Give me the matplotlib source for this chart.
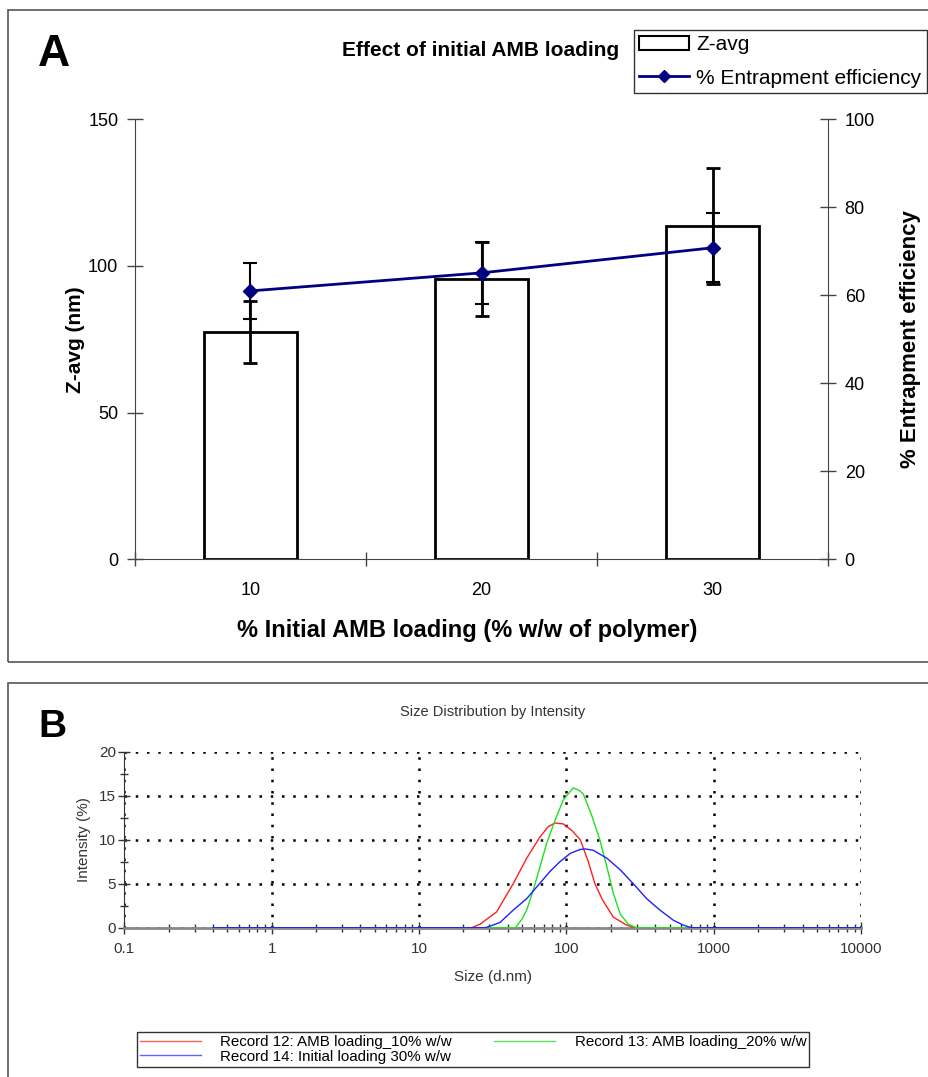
import numpy as np
import matplotlib.pyplot as plt
from matplotlib.patches import Patch, Rectangle
from matplotlib.lines import Line2D
from matplotlib.ticker import FixedLocator, NullFormatter, LogLocator, MultipleLocator

plt.rcParams['font.family'] = ['Liberation Sans', 'DejaVu Sans']

# panel A: particle size and entrapment vs. initial drug loading
loading = ['10', '20', '30']
zavg = [77.5, 95.5, 113.7]
zavg_err = [10.6, 12.7, 19.8]
ee = [61.0, 65.1, 70.8]
ee_err = [6.4, 7.1, 7.8]

# panel B: DLS intensity distributions
size_red = [0.4, 22.7, 25.9, 33.6, 37.3, 43.5, 53.7, 66, 75.3, 83.6, 95, 108,
            124, 140, 156, 175, 208, 256, 292, 10000]
int_red = [0, 0, 0.4, 1.8, 3.1, 5.0, 7.9, 10.3, 11.5, 11.9, 11.8, 11.1,
           10.0, 7.6, 5.0, 3.2, 1.2, 0.3, 0, 0]

size_green = [0.4, 45, 50, 53.7, 59.6, 66, 73.4, 83.6, 95, 111, 122, 130,
              148, 169, 188, 208, 231, 262, 299, 10000]
int_green = [0, 0, 1.0, 2.0, 4.3, 6.9, 9.6, 12.2, 14.5, 15.9, 15.6, 15.2,
             12.8, 9.9, 6.9, 3.9, 1.6, 0.4, 0, 0]

size_blue = [0.4, 28, 30, 35.4, 43.5, 53.7, 64.4, 77.3, 90.3, 106, 124, 135,
             152, 188, 231, 284, 350, 431, 531, 620, 689, 720, 10000]
int_blue = [0, 0, 0.15, 0.6, 2.0, 3.3, 4.85, 6.4, 7.5, 8.45, 8.9, 8.95,
            8.8, 7.9, 6.6, 5.0, 3.3, 2.0, 0.85, 0.3, 0.05, 0, 0]

fig = plt.figure(figsize=(9.29, 10.77), dpi=100)

# panel frames
fig.patches.append(Rectangle((8 / 929, 1 - 662 / 1077), 1.0, 652 / 1077,
                             transform=fig.transFigure, fill=False,
                             edgecolor='#555555', linewidth=1.2))
fig.patches.append(Rectangle((8 / 929, -0.01), 1.0, 1 - 683 / 1077 + 0.01,
                             transform=fig.transFigure, fill=False,
                             edgecolor='#555555', linewidth=1.2))

# ---------------- Panel A ----------------
ax = fig.add_axes([0.1453, 0.4807, 0.746, 0.4085])
x = np.arange(len(loading))
ax.bar(x, zavg, width=0.4, color='white', edgecolor='black', linewidth=2, zorder=2)
ax.errorbar(x, zavg, yerr=zavg_err, fmt='none', ecolor='black', elinewidth=2,
            capsize=5, capthick=2, zorder=3)
ax.set_xlim(-0.5, 2.5)
ax.set_ylim(0, 150)
ax.set_yticks([0, 50, 100, 150])
ax.xaxis.set_major_locator(FixedLocator([-0.5, 0.5, 1.5, 2.5]))
ax.xaxis.set_major_formatter(NullFormatter())
ax.xaxis.set_minor_locator(FixedLocator(x))
ax.set_xticklabels(loading, minor=True)
ax.tick_params(axis='x', which='major', direction='inout', length=10, width=1, color='#444444')
ax.tick_params(axis='x', which='minor', length=0, pad=16, labelsize=13)
ax.tick_params(axis='y', direction='inout', length=12, width=1, color='#444444', labelsize=13, pad=6)
for s in ['top', 'right']:
    ax.spines[s].set_visible(False)
for s in ['left', 'bottom']:
    ax.spines[s].set_color('#444444')
ax.set_ylabel('Z-avg (nm)', fontsize=15, fontweight='bold', labelpad=2)
ax.set_xlabel('% Initial AMB loading (% w/w of polymer)', fontsize=17, fontweight='bold')
ax.xaxis.set_label_coords(0.48, -0.135)

ax2 = ax.twinx()
ax2.errorbar(x, ee, yerr=ee_err, fmt='none', ecolor='black', elinewidth=1.5,
             capsize=5, capthick=1.5, zorder=3)
ax2.plot(x, ee, color='#000080', linewidth=2, marker='D', markersize=7, zorder=4)
ax2.set_ylim(0, 100)
ax2.set_yticks([0, 20, 40, 60, 80, 100])
ax2.tick_params(axis='y', direction='inout', length=12, width=1, color='#444444', labelsize=13, pad=6)
for s in ['top', 'left', 'bottom']:
    ax2.spines[s].set_visible(False)
ax2.spines['right'].set_color('#444444')
ax2.set_ylabel('% Entrapment efficiency', fontsize=16, fontweight='bold', labelpad=18)

fig.text(38 / 929, 1 - 55 / 1077, 'A', fontsize=32, fontweight='bold', va='center')
fig.text(481 / 929, 1 - 50 / 1077, 'Effect of initial AMB loading', fontsize=15,
         fontweight='bold', ha='center', va='center')

handles_a = [Patch(facecolor='white', edgecolor='black', linewidth=1.5),
             Line2D([], [], color='#000080', linewidth=2, marker='D', markersize=6)]
fig.legend(handles_a, ['Z-avg', '% Entrapment efficiency'], loc='upper left',
           bbox_to_anchor=(634 / 929, 1 - 30 / 1077),
           fontsize=15, frameon=True, fancybox=False, edgecolor='black',
           borderpad=0.25, handlelength=2.4, handletextpad=0.35, labelspacing=0.7,
           borderaxespad=0)

# ---------------- Panel B ----------------
bx = fig.add_axes([0.1338, 0.1386, 0.7933, 0.1634])
bx.plot(size_red, int_red, color='#ff2020', linewidth=1, zorder=3)
bx.plot(size_green, int_green, color='#20e020', linewidth=1, zorder=3)
bx.plot(size_blue, int_blue, color='#2020ff', linewidth=1, zorder=4)
bx.set_xscale('log')
bx.set_xlim(0.1, 10000)
bx.set_ylim(0, 20)
bx.xaxis.set_major_locator(FixedLocator([0.1, 1, 10, 100, 1000, 10000]))
bx.set_xticklabels(['0.1', '1', '10', '100', '1000', '10000'])
bx.xaxis.set_minor_locator(LogLocator(base=10, subs=np.arange(2, 10), numticks=20))
bx.xaxis.set_minor_formatter(NullFormatter())
bx.yaxis.set_major_locator(MultipleLocator(5))
bx.yaxis.set_minor_locator(MultipleLocator(2.5))
bx.tick_params(which='both', direction='inout', color='#333333', width=1,
               labelsize=11, labelcolor='#333333')
bx.tick_params(which='major', length=8)
bx.tick_params(which='minor', length=6)
bx.tick_params(axis='x', pad=6)
bx.tick_params(axis='y', pad=2)
bx.grid(True, which='major', color='black', linestyle=(0, (1, 3.5)), linewidth=1.8)
for s in ['top', 'right']:
    bx.spines[s].set_visible(False)
bx.spines['left'].set_color('#333333')
bx.spines['bottom'].set_color('#888888')
bx.spines['bottom'].set_linewidth(2)
bx.set_ylabel('Intensity (%)', fontsize=11, color='#333333', labelpad=6)
bx.set_xlabel('Size (d.nm)', fontsize=11, color='#333333', labelpad=10)
bx.set_title('Size Distribution by Intensity', fontsize=10.5, color='#333333', pad=26)

fig.text(38 / 929, 1 - 727 / 1077, 'B', fontsize=28, fontweight='bold', va='center')

handles_b = [Line2D([], [], color='#ff6060', linewidth=1),
             Line2D([], [], color='#6060ff', linewidth=1),
             Line2D([], [], color='#60e060', linewidth=1)]
fig.legend(handles_b, ['Record 12: AMB loading_10% w/w', 'Record 14: Initial loading 30% w/w',
                       'Record 13: AMB loading_20% w/w'],
           loc='upper left', ncol=2, bbox_to_anchor=(137 / 929, 1 - 1032 / 1077),
           fontsize=10.9, frameon=True, fancybox=False, edgecolor='black',
           borderpad=0.2, handlelength=4.0, handletextpad=1.3, labelspacing=0.05,
           columnspacing=2.8, borderaxespad=0)

fig.savefig('out.png', dpi=100)
